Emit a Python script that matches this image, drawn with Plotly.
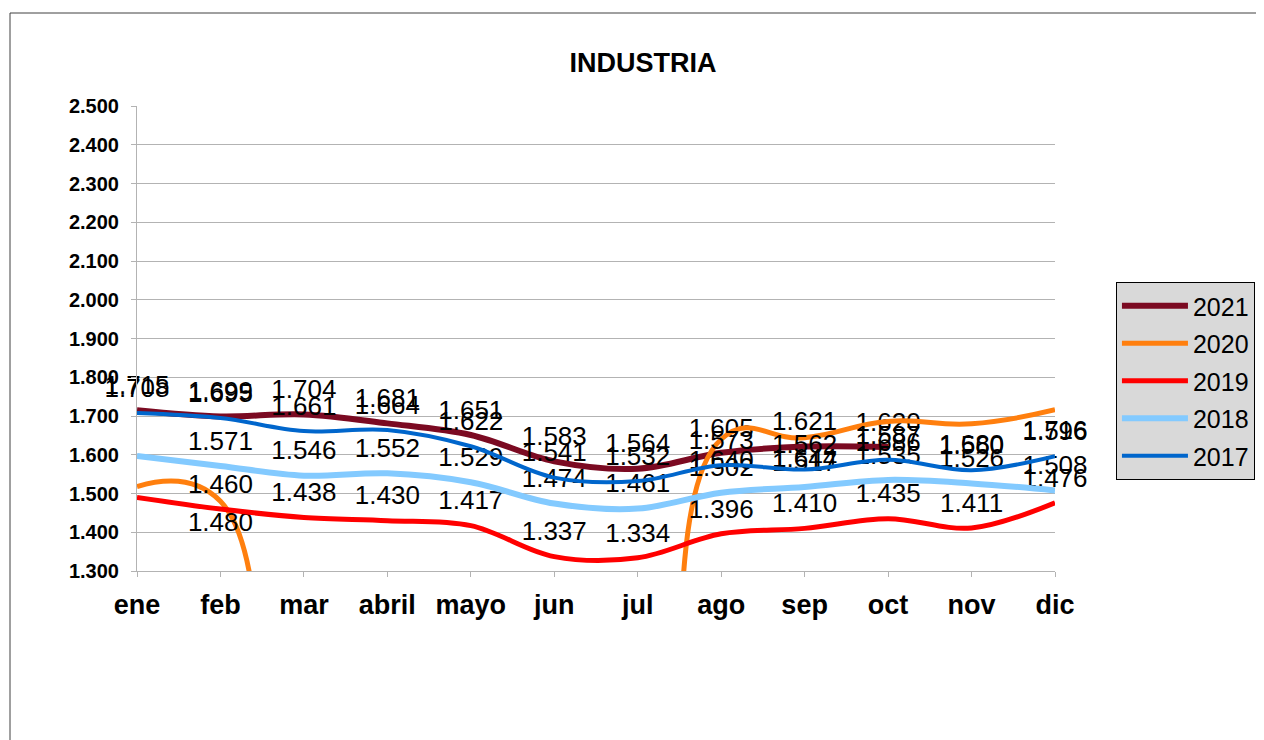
import plotly.graph_objects as go

months = ["ene", "feb", "mar", "abril", "mayo", "jun", "jul", "ago", "sep", "oct", "nov", "dic"]

y2021 = [1715, 1699, 1704, 1681, 1651, 1583, 1564, 1605, 1621, 1620, None, None]
y2020 = [1518, 1480, 0, 0, 0, 0, 0, 1640, 1644, 1686, 1680, 1716]
y2019 = [1490, 1460, 1438, 1430, 1417, 1337, 1334, 1396, 1410, 1435, 1411, 1476]
y2018 = [1597, 1571, 1546, 1552, 1529, 1474, 1461, 1502, 1517, 1535, 1526, 1508]
y2017 = [1708, 1695, 1661, 1664, 1622, 1541, 1532, 1573, 1562, 1587, 1560, 1596]

# months whose labels are shown per series
show_2020 = [False, True, False, False, False, False, False, True, True, True, True, True]
show_2019 = [False] + [True] * 11
show_2018 = [False] + [True] * 11

series = [
    ("2021", y2021, "#7b0a22", 6, None, "top center", 1.0),
    ("2020", y2020, "#ff7f0e", 5, show_2020, "bottom center", 1.3),
    ("2019", y2019, "#ff0000", 5, show_2019, "top center", 1.0),
    ("2018", y2018, "#83caff", 6, show_2018, "top center", 1.0),
    ("2017", y2017, "#0066cc", 4, None, "top center", 1.0),
]

FONT = "Liberation Sans, Arial, sans-serif"


def fmt(v):
    return f"{v:,}".replace(",", ".")


fig = go.Figure()
for name, ys, color, width, show, tpos, smooth in series:
    texts = []
    for i, v in enumerate(ys):
        if v is None or (show is not None and not show[i]):
            texts.append("")
        else:
            texts.append(fmt(v))
    fig.add_trace(go.Scatter(
        x=months, y=ys, name=name, mode="lines+markers+text",
        line=dict(color=color, width=width, shape="spline", smoothing=smooth),
        marker=dict(size=14, color="rgba(0,0,0,0)"),
        text=texts, textposition=tpos,
        textfont=dict(family=FONT, size=26, color="black"),
        legendgroup=name, cliponaxis=False, hoverinfo="x+y+name",
    ))

# figure is placed 8px in from the page corner, so pixel positions are shifted by 8
fig.update_layout(
    width=1256, height=732,
    paper_bgcolor="white", plot_bgcolor="white",
    margin=dict(l=129, r=209, t=98, b=169, autoexpand=False),
    font=dict(family=FONT, color="black"),
    separators=",.",
    title=dict(text="<b>INDUSTRIA</b>", x=0.5056, xanchor="center",
               y=1 - 55 / 732, yanchor="middle",
               font=dict(family=FONT, size=27, color="black")),
    showlegend=True,
    legend=dict(x=1.0664, y=0.6215, xanchor="left", yanchor="top",
                bgcolor="#d9d9d9", bordercolor="black", borderwidth=1,
                font=dict(family=FONT, size=25, color="black"),
                itemwidth=66,
                traceorder="grouped", tracegroupgap=2),
)

fig.update_xaxes(
    type="category", range=[0, 11],
    showgrid=False, showline=True, linecolor="#b3b3b3", linewidth=1,
    ticks="outside", ticklen=5, tickcolor="#b3b3b3",
    tickfont=dict(family=FONT, size=27, color="black"),
    ticklabelstandoff=5,
    tickprefix="<b>", ticksuffix="</b>",
)
fig.update_yaxes(
    range=[1300, 2500], dtick=100, tickformat=",d",
    showgrid=True, gridcolor="#b3b3b3", gridwidth=1,
    showline=True, linecolor="#b3b3b3", linewidth=1,
    ticks="outside", ticklen=5, tickcolor="#b3b3b3",
    tickfont=dict(family=FONT, size=20, color="black"),
    ticklabelstandoff=8,
    tickprefix="<b>", ticksuffix="</b>", zeroline=False,
)

# outer chart border
fig.add_shape(type="rect", xref="paper", yref="paper",
              x0=(2 - 129) / 918, x1=(1262 - 129) / 918,
              y0=(563 - 760) / 465, y1=(563 - 5) / 465,
              line=dict(color="#404040", width=1), fillcolor="rgba(0,0,0,0)",
              layer="below")

fig.write_html("out.html")
